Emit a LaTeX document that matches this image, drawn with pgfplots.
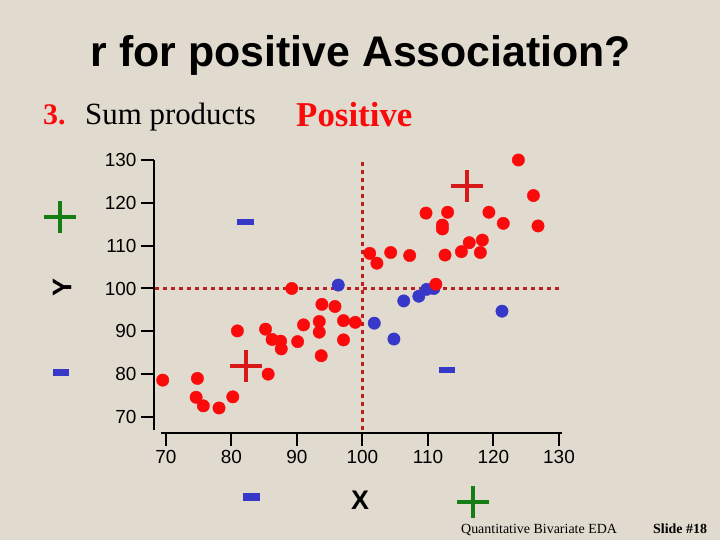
\documentclass[border=0pt]{standalone}
\usepackage{fontspec}
\setmainfont{Liberation Serif}
\newfontfamily\arial{Liberation Sans}
\usepackage{pgfplots}
\pgfplotsset{compat=1.18}

\definecolor{bgbeige}{RGB}{225,219,207}
\definecolor{dotred}{RGB}{250,10,10}
\definecolor{dotblue}{RGB}{55,55,200}
\definecolor{meanline}{RGB}{190,30,30}
\definecolor{plusred}{RGB}{215,25,25}
\definecolor{plusgreen}{RGB}{20,125,20}

\begin{document}
\begin{tikzpicture}
\path[use as bounding box] (0,0) rectangle (720bp,540bp);
\fill[bgbeige] (0,0) rectangle (720bp,540bp);

\begin{axis}[
    at={(154bp,107bp)}, anchor=south west,
    scale only axis, width=408bp, height=273bp,
    xmin=68.17, xmax=130.46, ymin=66.26, ymax=130,
    enlargelimits=false, clip=false,
    axis lines*=left,
    x axis line style={-, line width=2bp, shorten <=7bp},
    y axis line style={-, line width=2bp, shorten <=3bp},
    tick align=outside, major tick length=13bp,
    tick style={line width=2bp, black},
    xtick={70,80,...,130}, ytick={70,80,...,130},
    minor tick num=0,
    /pgf/number format/assume math mode=true,
    ticklabel style={font=\arial\fontsize{19}{20}\selectfont},
    yticklabel style={xshift=-1bp},
    xticklabel style={yshift=-1bp},
]
% mean lines
\addplot[meanline, line width=3.5bp, dash pattern=on 4bp off 4bp] coordinates {(68.3,100) (130.4,100)};
\addplot[meanline, line width=3.5bp, dash pattern=on 4bp off 4bp] coordinates {(100,129.6) (100,66.26)};

% points with negative product
\addplot[only marks, mark=*, mark size=6.2bp, mark options={fill=dotblue, draw=dotblue}] coordinates {
    (96.3,100.8) (109.8,99.8) (110.9,100.0) (108.6,98.2) (106.3,97.1)
    (101.8,91.9) (104.8,88.2) (121.3,94.7)
};

% points with positive product
\addplot[only marks, mark=*, mark size=6.2bp, mark options={fill=dotred, draw=dotred}] coordinates {
    (123.8,130.0) (126.1,121.7) (126.8,114.6) (109.7,117.6) (113.0,117.8)
    (119.3,117.8) (121.5,115.2) (112.2,114.8) (112.2,113.9) (101.1,108.2)
    (102.2,105.9) (104.3,108.4) (107.2,107.7) (112.6,107.8) (115.1,108.6)
    (116.3,110.7) (118.3,111.3) (118.0,108.4) (111.2,101.0)
    (89.2,100.0) (93.8,96.3) (95.8,95.8) (97.1,92.5) (98.9,92.1)
    (97.1,88.0) (93.4,92.3) (93.4,89.8) (91.0,91.5) (93.7,84.3)
    (90.1,87.6) (87.5,87.7) (87.6,85.9) (86.2,88.1) (85.2,90.5)
    (80.9,90.1) (85.6,80.0) (69.5,78.6) (74.8,79.0) (74.6,74.6)
    (75.7,72.6) (78.1,72.1) (80.2,74.7)
};
\end{axis}

% titles
\node[anchor=base, inner sep=0] at (361bp,473bp) {\arial\bfseries\fontsize{43}{46}\selectfont r for positive Association?};
\node[anchor=base west, inner sep=0, text=dotred] at (43bp,415bp) {\bfseries\fontsize{30}{32}\selectfont 3.};
\node[anchor=base west, inner sep=0] at (85bp,415bp) {\fontsize{31}{33}\selectfont Sum products};
\node[anchor=base west, inner sep=0, text=dotred] at (296bp,413bp) {\bfseries\fontsize{35}{38}\selectfont Positive};

% axis names
\node[rotate=90, inner sep=0] at (62bp,252bp) {\arial\bfseries\fontsize{27}{30}\selectfont Y};
\node[inner sep=0] at (360bp,40bp) {\arial\bfseries\fontsize{27}{30}\selectfont X};

% quadrant signs
\draw[plusred, line width=4.5bp, shift={(467bp,354bp)}] (-16bp,0) -- (16bp,0) (0,-16bp) -- (0,16bp);
\draw[plusred, line width=4.5bp, shift={(246bp,174bp)}] (-16bp,0) -- (16bp,0) (0,-16bp) -- (0,16bp);
\draw[plusgreen, line width=4.5bp, shift={(60bp,323bp)}] (-16bp,0) -- (16bp,0) (0,-16bp) -- (0,16bp);
\draw[plusgreen, line width=4.5bp, shift={(473bp,38bp)}] (-16bp,0) -- (16bp,0) (0,-16bp) -- (0,16bp);
\fill[dotblue] (236.5bp,315bp) rectangle (253.5bp,321bp);
\fill[dotblue] (439bp,167bp) rectangle (455bp,173bp);
\fill[dotblue] (53bp,163.5bp) rectangle (69bp,170.5bp);
\fill[dotblue] (242.5bp,39bp) rectangle (259.5bp,47bp);

% footer
\node[anchor=base west, inner sep=0] at (461bp,7bp) {\fontsize{14}{16}\selectfont Quantitative Bivariate EDA};
\node[anchor=base west, inner sep=0] at (653bp,7bp) {\bfseries\fontsize{14}{16}\selectfont Slide \#18};
\end{tikzpicture}
\end{document}
